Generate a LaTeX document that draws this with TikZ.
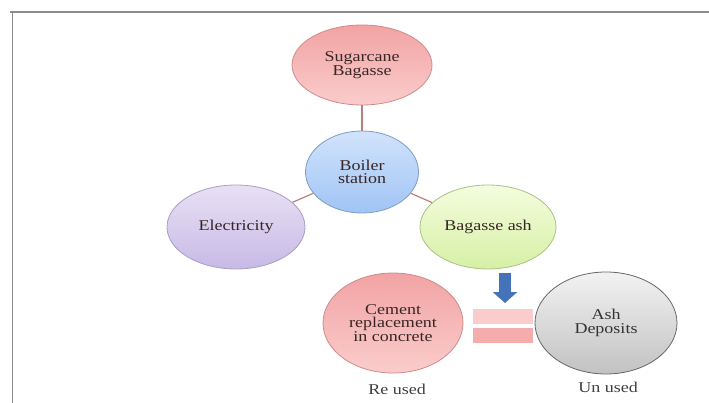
\documentclass[tikz,border=0pt]{standalone}
\usepackage{fontspec}
\setmainfont{Liberation Serif}[FakeStretch=1.2]
\usepackage{xcolor}
\definecolor{cpink}{rgb}{0.98,0.80,0.80}
\definecolor{cpinkdark}{rgb}{0.95,0.64,0.64}
\definecolor{cblue}{rgb}{0.82,0.89,0.99}
\definecolor{cbluedark}{rgb}{0.63,0.77,0.96}
\definecolor{cviolet}{rgb}{0.91,0.88,0.96}
\definecolor{cvioletdark}{rgb}{0.78,0.73,0.90}
\definecolor{cgreen}{rgb}{0.96,0.99,0.87}
\definecolor{cgreendark}{rgb}{0.84,0.94,0.65}
\definecolor{cgray}{rgb}{0.95,0.95,0.95}
\definecolor{cgraydark}{rgb}{0.76,0.76,0.76}
\definecolor{cline}{rgb}{0.72,0.50,0.47}
\definecolor{ctext}{rgb}{0.22,0.15,0.15}
\definecolor{carrow}{rgb}{0.27,0.45,0.73}
\usepackage{tikz}
\usetikzlibrary{shapes.geometric, arrows.meta, positioning}
\tikzset{
node distance=107pt,
Stage/.style={
	draw, ellipse,
	inner sep=0pt,
	align=center,
	text=ctext,
	font=\fontsize{15}{13.5}\selectfont,
	line width=0.8pt,
	minimum width=138pt,
	minimum height=84pt
},
PinkStage/.style={
	Stage,
	draw=cpinkdark!85!black,
	top color=cpinkdark, bottom color=cpink
},
BlueStage/.style={
	Stage,
	draw=cbluedark!80!black,
	top color=cblue, bottom color=cbluedark
},
VioletStage/.style={
	Stage,
	draw=cvioletdark!85!black,
	top color=cviolet, bottom color=cvioletdark
},
GreenStage/.style={
	Stage,
	draw=cgreendark!80!black,
	top color=cgreen, bottom color=cgreendark
},
GrayStage/.style={
	Stage,
	draw=black!60,
	text=black!80,
	top color=cgray, bottom color=cgraydark
},
Edge/.style={
	draw=cline,
	line width=1.2pt
},
Flow/.style={
	draw=carrow,
	line width=12pt,
	-{Triangle[width=24pt, length=11pt]}
},
Bar/.style={
	rectangle,
	inner sep=0pt,
	minimum width=60pt,
	minimum height=15pt
},
Caption/.style={
	text=black!75,
	inner sep=2pt,
	font=\fontsize{15}{15}\selectfont
},
Frame/.style={
	draw=black!45,
	line width=1.5pt
}
}

\begin{document}
\begin{tikzpicture}[x=1pt, y=1pt]
	\useasboundingbox (0,0) rectangle (709,-403);
	\draw[Frame] (10,-12) -- (709,-12);
	\draw[Frame] (12.5,-12) -- (12.5,-403);

	\node[PinkStage, minimum width=140pt, minimum height=80pt] (sugar) at (362,-65) {Sugarcane\\Bagasse};
	\node[BlueStage, below of=sugar, minimum width=113pt, minimum height=82pt] (boiler) {Boiler\\station};
	\node[VioletStage, below of=boiler, xshift=-126pt, yshift=52pt] (power) {Electricity};
	\node[GreenStage, below of=boiler, xshift=126pt, yshift=52pt, minimum width=136pt] (ash) {Bagasse ash};

	\node[PinkStage, below of=ash, xshift=-95pt, yshift=11pt, minimum width=140pt, minimum height=100pt] (cement) {Cement\\replacement\\in concrete};
	\node[GrayStage, right of=cement, xshift=106pt, minimum width=142pt, minimum height=102pt] (deposit) {Ash\\Deposits};
	\node[Caption, below=8pt of cement, xshift=4pt] (reused) {Re used};
	\node[Caption, below=5pt of deposit, xshift=2pt] (unused) {Un used};

	\coordinate (flowtop) at (505,-273);
	\coordinate (flowtip) at (505,-303);
	\draw[Flow] (flowtop) -- (flowtip);
	\node[Bar, right of=cement, xshift=3pt, yshift=6.5pt, fill=cpink] (barA) {};
	\node[Bar, below=4pt of barA, fill=cpinkdark!90!white] (barB) {};

	\draw[Edge] (sugar) -- (boiler);
	\draw[Edge] (boiler) -- (power);
	\draw[Edge] (boiler) -- (ash);
\end{tikzpicture}
\end{document}
